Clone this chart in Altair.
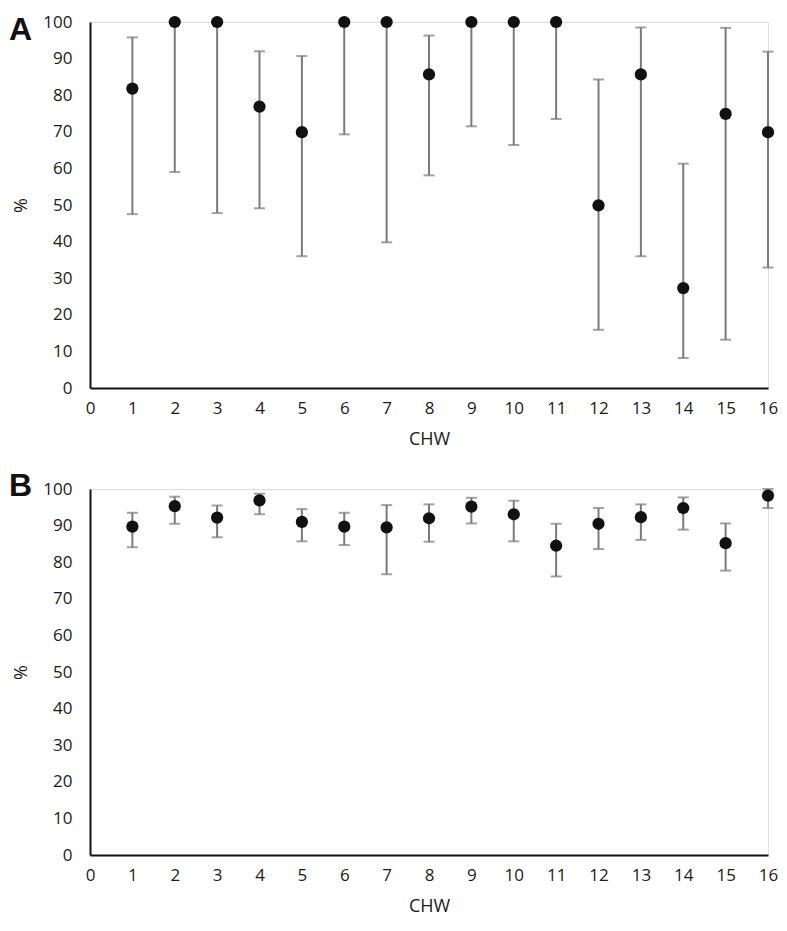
import altair as alt
import pandas as pd

chw = list(range(1, 17))

# Panel A
a_val = [81.8, 100, 100, 76.9, 69.9, 100, 100, 85.7, 100, 100, 100, 49.9, 85.7, 27.3, 74.9, 69.9]
a_lo = [47.5, 59.0, 47.8, 49.1, 36.0, 69.3, 39.8, 58.1, 71.5, 66.4, 73.5, 15.9, 36.0, 8.2, 13.2, 32.9]
a_hi = [95.8, 100, 100, 92.0, 90.7, 100, 100, 96.3, 100, 100, 100, 84.3, 98.5, 61.3, 98.4, 91.9]

# Panel B
b_val = [89.7, 95.3, 92.2, 96.9, 91.0, 89.7, 89.5, 92.0, 95.2, 93.1, 84.5, 90.5, 92.3, 94.8, 85.2, 98.2]
b_lo = [84.1, 90.5, 86.8, 93.1, 85.7, 84.7, 76.7, 85.6, 90.6, 85.7, 76.1, 83.6, 86.1, 88.9, 77.7, 94.8]
b_hi = [93.5, 97.9, 95.5, 98.7, 94.5, 93.5, 95.6, 95.8, 97.6, 96.8, 90.5, 94.8, 95.8, 97.7, 90.6, 100]

panel_labels = ["A", "B"]
x_ticks = list(range(0, 17))
y_ticks = list(range(0, 101, 10))

FONT = "Open Sans"
W, H = 678, 366

x_axis = alt.Axis(values=x_ticks, tickCount=17, grid=False, ticks=False,
                  domainColor="#111", domainWidth=2,
                  labelFont=FONT, labelFontSize=17, labelColor="#1a1a1a",
                  labelPadding=12, labelFlush=False, labelOverlap=False,
                  titleFont=FONT, titleFontSize=18, titleFontWeight="normal",
                  titleColor="#1a1a1a", titlePadding=14)
y_axis = alt.Axis(values=y_ticks, tickCount=11, grid=False, ticks=False,
                  domainColor="#111", domainWidth=2,
                  labelFont=FONT, labelFontSize=17, labelColor="#1a1a1a",
                  labelPadding=18, labelFlush=False, labelOverlap=False,
                  titleFont=FONT, titleFontSize=18, titleFontWeight="normal",
                  titleColor="#1a1a1a", titlePadding=12)
xscale = alt.Scale(domain=[0, 16], nice=False, zero=True)
yscale = alt.Scale(domain=[0, 100], nice=False)


def xe():
    return alt.X("chw:Q", title="CHW", scale=xscale, axis=x_axis)


def ye(field):
    return alt.Y(field, title="%", scale=yscale, axis=y_axis)


def panel(val, lo, hi, label):
    df = pd.DataFrame({"chw": chw, "val": val, "lo": lo, "hi": hi})
    base = alt.Chart(df)
    rules = base.mark_rule(color="#7a7a7a", strokeWidth=2).encode(
        x=xe(), y=ye("lo:Q"), y2="hi:Q")
    caps_lo = base.mark_tick(color="#7a7a7a", thickness=2, size=11, orient="horizontal").encode(
        x=xe(), y=ye("lo:Q"))
    caps_hi = base.mark_tick(color="#7a7a7a", thickness=2, size=11, orient="horizontal").encode(
        x=xe(), y=ye("hi:Q"))
    pts = base.mark_circle(color="#111111", size=150, opacity=1).encode(
        x=xe(), y=ye("val:Q"))
    lab_df = pd.DataFrame({"label": [label]})
    yoff = 8 if label == "A" else -3
    lab = alt.Chart(lab_df).mark_text(
        font="Liberation Sans", fontWeight="bold", fontSize=32,
        align="left", baseline="middle", color="#111").encode(
        text="label:N", x=alt.value(-81), y=alt.value(yoff))
    return alt.layer(rules, caps_lo, caps_hi, pts, lab).properties(width=W, height=H)


chart = alt.vconcat(
    panel(a_val, a_lo, a_hi, panel_labels[0]),
    panel(b_val, b_lo, b_hi, panel_labels[1]),
    spacing=20,
).properties(padding={"top": 4, "left": 0, "right": 0, "bottom": 0}).configure_view(
    stroke=None, strokeWidth=0).configure(background="white")

chart.save("out.html", embed_options={"renderer": "svg", "actions": False})
